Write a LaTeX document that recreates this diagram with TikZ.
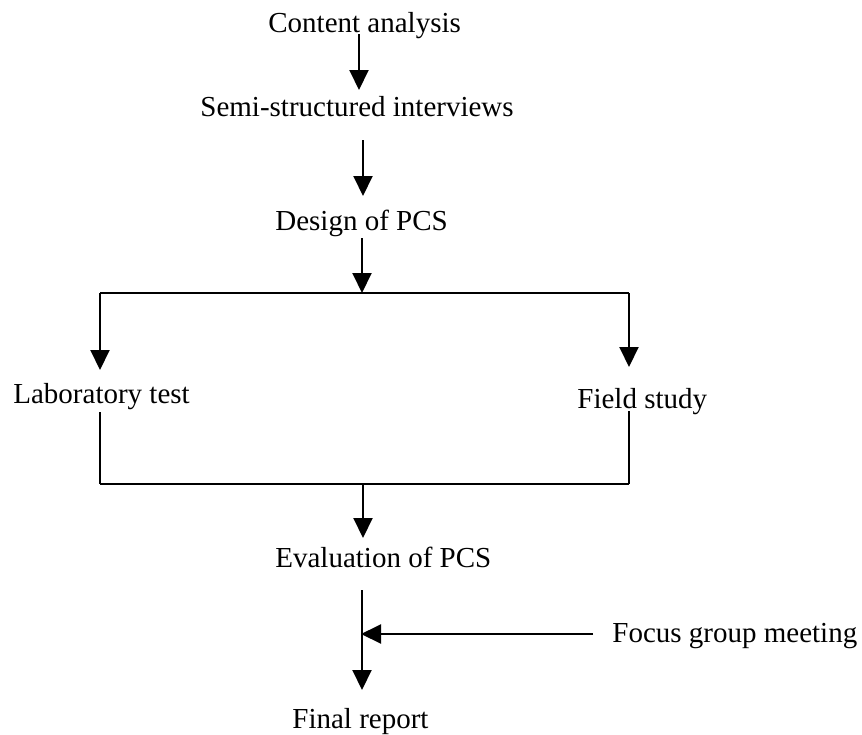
\documentclass[tikz,border=0pt]{standalone}
\usepackage{fontspec}
\setmainfont{Liberation Serif}
\usetikzlibrary{arrows.meta}
\begin{document}
\begin{tikzpicture}[x=0.5pt,y=-0.5pt,
  lbl/.style={anchor=base west,inner sep=0pt,font=\fontsize{14.5pt}{17pt}\selectfont},
  link/.style={line width=1pt},
  arr/.style={line width=1pt,-{Triangle[width=9.5pt,length=10pt]}}]
\useasboundingbox (0,0) rectangle (862,734);

% stages
\node[lbl] (ca)  at (268,32)  {Content analysis};
\node[lbl] (si)  at (200,116) {Semi-structured interviews};
\node[lbl] (dp)  at (275,230) {Design of PCS};
\node[lbl] (lab) at (13,403)  {Laboratory test};
\node[lbl] (fs)  at (577,408) {Field study};
\node[lbl] (ev)  at (275,567) {Evaluation of PCS};
\node[lbl] (fg)  at (612,642) {Focus group meeting};
\node[lbl] (fr)  at (292,728) {Final report};

% connector end points
\coordinate (caOut) at (359,34);   \coordinate (siIn) at (359,90);
\coordinate (siOut) at (363,140);  \coordinate (dpIn) at (363,196);
\coordinate (dpOut) at (362,238);  \coordinate (split) at (362,293);
\coordinate (splitL) at (100,293); \coordinate (splitR) at (629,293);
\coordinate (labIn) at (100,370);  \coordinate (fsIn) at (629,367);
\coordinate (labOut) at (100,412); \coordinate (fsOut) at (629,411);
\coordinate (joinL) at (100,484);  \coordinate (joinR) at (629,484);
\coordinate (join) at (363,484);   \coordinate (evIn) at (363,538);
\coordinate (evOut) at (362,590);  \coordinate (frIn) at (362,690);
\coordinate (merge) at (361,634);  \coordinate (fgOut) at (593,634);

% sequence
\draw[arr] (caOut) -- (siIn);
\draw[arr] (siOut) -- (dpIn);
\draw[arr] (dpOut) -- (split);

% branch into the two studies
\draw[link] (splitL) -- (splitR);
\draw[arr] (splitL) -- (labIn);
\draw[arr] (splitR) -- (fsIn);

% studies rejoin
\draw[link] (labOut) -- (joinL);
\draw[link] (fsOut) -- (joinR);
\draw[line width=1.4pt] (joinL) -- (joinR);
\draw[arr] (join) -- (evIn);

% evaluation to final report with focus group input
\draw[arr] (evOut) -- (frIn);
\draw[arr] (fgOut) -- (merge);
\end{tikzpicture}
\end{document}
